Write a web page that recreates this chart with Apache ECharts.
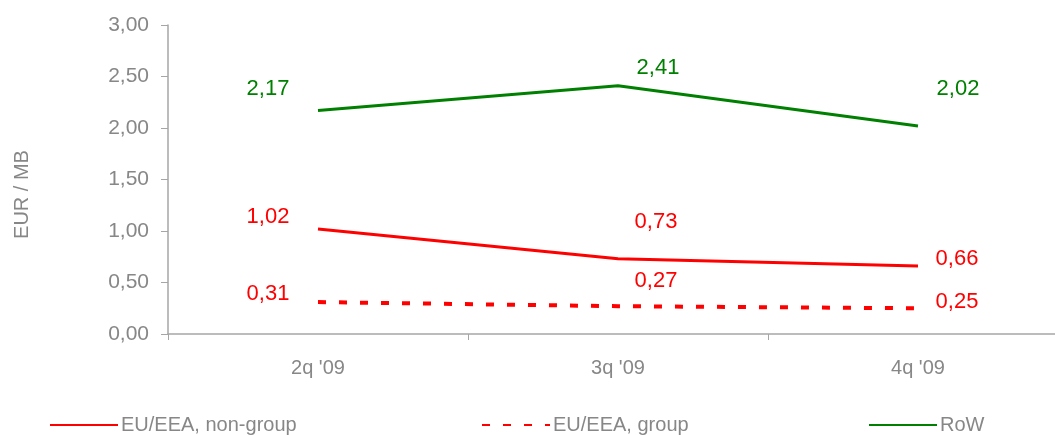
<!DOCTYPE html>
<html>
<head>
<meta charset="utf-8">
<script src="https://cdn.jsdelivr.net/npm/echarts@6/dist/echarts.min.js"></script>
<style>
  html, body { margin: 0; padding: 0; background: #fff; }
  #main { width: 1055px; height: 435px; }
</style>
</head>
<body>
<div id="main"></div>
<script>
// data
const categories = ["2q '09", "3q '09", "4q '09"]
const nonGroup = [1.02, 0.73, 0.66]
const group = [0.31, 0.27, 0.25]
const row = [2.17, 2.41, 2.02]
const yTicks = { min: 0, max: 3, interval: 0.5 }

const fmt = v => v.toFixed(2).replace('.', ',')
const grey = '#878787'
const font = 'Liberation Sans, Arial, sans-serif'

// x is a value axis so category slots can run past the right edge (like the original)
const catPos = categories.map((c, i) => i + 0.5)
const catTicks = categories.map((c, i) => i)

// label offsets per point
const lbl = (arr, offs) => arr.map((v, i) => ({
  value: [catPos[i], v],
  label: { offset: offs[i] }
}))

const main = document.getElementById('main')
const myChart = echarts.init(main)

const legendBase = {
  top: 410,
  itemWidth: 68,
  itemHeight: 4,
  itemStyle: { opacity: 0 },
  textStyle: { color: grey, fontSize: 20, fontFamily: font, padding: [0, 0, 0, -2] },
  itemGap: 4
}

const labelBase = {
  show: true,
  position: 'inside',
  fontSize: 22,
  fontFamily: font,
  formatter: p => fmt(p.value[1])
}

let option = {
  animation: false,
  grid: { left: 168, right: 0, top: 25, bottom: 101 },
  legend: [
    Object.assign({ left: 44, data: ['EU/EEA, non-group'] }, legendBase),
    Object.assign({ left: 476, data: ['EU/EEA, group'] }, legendBase),
    Object.assign({ left: 863, data: ['RoW'] }, legendBase)
  ],
  xAxis: {
    type: 'value',
    min: 0,
    max: 887 / 300,
    axisLine: { show: true, lineStyle: { color: '#a6a6a6', width: 1.5 } },
    axisTick: { show: true, length: 6, customValues: catTicks, lineStyle: { color: '#a6a6a6' } },
    axisLabel: {
      color: grey, fontSize: 20, fontFamily: font, margin: 24,
      customValues: catPos,
      formatter: v => categories[Math.round(v - 0.5)]
    },
    splitLine: { show: false }
  },
  yAxis: {
    type: 'value',
    min: yTicks.min,
    max: yTicks.max,
    interval: yTicks.interval,
    name: 'EUR / MB',
    nameLocation: 'middle',
    nameGap: 136,
    nameTextStyle: { color: grey, fontSize: 20, fontFamily: font, padding: [0, 30, 0, 0] },
    axisLine: { show: true, lineStyle: { color: '#a6a6a6', width: 1.5 } },
    axisTick: { show: true, length: 7, lineStyle: { color: '#a6a6a6' } },
    axisLabel: { color: grey, fontSize: 21, fontFamily: font, margin: 19, formatter: v => fmt(v) },
    splitLine: { show: false }
  },
  series: [
    {
      name: 'EU/EEA, non-group',
      type: 'line',
      symbol: 'circle',
      symbolSize: 0,
      showSymbol: true,
      color: '#ff0000',
      lineStyle: { width: 3, color: '#ff0000' },
      label: Object.assign({ color: '#ff0000' }, labelBase),
      data: lbl(nonGroup, [[-50, -12], [38, -37], [39, -7]])
    },
    {
      name: 'EU/EEA, group',
      type: 'line',
      symbol: 'circle',
      symbolSize: 0,
      showSymbol: true,
      color: '#ff0000',
      lineStyle: { width: 4, color: '#ff0000', type: [8, 13] },
      label: Object.assign({ color: '#ff0000' }, labelBase),
      data: lbl(group, [[-50, -8], [38, -25], [39, -6]])
    },
    {
      name: 'RoW',
      type: 'line',
      symbol: 'circle',
      symbolSize: 0,
      showSymbol: true,
      color: '#008000',
      lineStyle: { width: 3, color: '#008000' },
      label: Object.assign({ color: '#008000' }, labelBase),
      data: lbl(row, [[-50, -22], [40, -18], [40, -37]])
    }
  ]
}

myChart.setOption(option)
window.onresize = () => {
  myChart.resize()
}
</script>
</body>
</html>
